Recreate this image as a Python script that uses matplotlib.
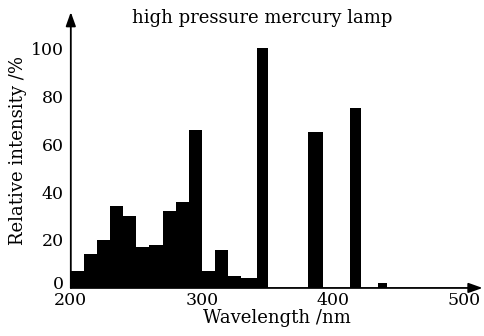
import matplotlib
matplotlib.use("Agg")
from matplotlib import pyplot as plt
from matplotlib.transforms import ScaledTranslation

# spectrum bins (left edge, width in nm, relative intensity %)
left_edges = [200, 210, 220, 230, 240, 250, 260, 270, 280, 290,
              300, 310, 320, 330, 342, 381, 413, 434]
widths = [10, 10, 10, 10, 10, 10, 10, 10, 10, 10,
          10, 10, 10, 12, 8, 11, 8, 7]
intensity = [7, 14, 20, 34, 30, 17, 18, 32, 36, 66,
             7, 16, 5, 4, 100, 65, 75, 2]

x_ticks = [200, 300, 400, 500]
y_ticks = [0, 20, 40, 60, 80, 100]

plt.rcParams['font.family'] = ['DejaVu Serif']

fig = plt.figure(figsize=(4.85, 3.36), dpi=100)
ax = fig.add_axes([0.146, 0.143, 0.849, 0.821])

ax.bar(left_edges, intensity, width=widths, align='edge', color='black', linewidth=0)

ax.set_xlim(200, 514)
ax.set_ylim(0, 115)
ax.set_xticks(x_ticks)
ax.set_yticks(y_ticks)
ax.tick_params(axis='both', length=0, labelsize=12.5)
ax.tick_params(axis='x', pad=3)
ax.tick_params(axis='y', pad=5)

# lift the "0" a bit so it sits above the "200", as in the figure
zero_lbl = ax.get_yticklabels()[0]
zero_lbl.set_transform(zero_lbl.get_transform() + ScaledTranslation(0, 4 / 72, fig.dpi_scale_trans))

for s in ['top', 'right', 'left', 'bottom']:
    ax.spines[s].set_visible(False)

# axes with arrow heads
ax.annotate('', xy=(1.0, 0), xytext=(0, 0), xycoords='axes fraction',
            arrowprops=dict(arrowstyle='-|>,head_length=0.7,head_width=0.25', color='black', lw=1.3,
                            mutation_scale=12, shrinkA=0, shrinkB=0))
ax.annotate('', xy=(0, 1.0), xytext=(0, 0), xycoords='axes fraction',
            arrowprops=dict(arrowstyle='-|>,head_length=0.7,head_width=0.25', color='black', lw=1.3,
                            mutation_scale=12, shrinkA=0, shrinkB=0))

ax.set_xlabel('Wavelength /nm', fontsize=13, labelpad=0)
ax.set_ylabel('Relative intensity /%', fontsize=13, labelpad=3)
fig.text(0.54, 0.945, 'high pressure mercury lamp', fontsize=13, ha='center', va='center')

plt.savefig('out.png', dpi=100)
